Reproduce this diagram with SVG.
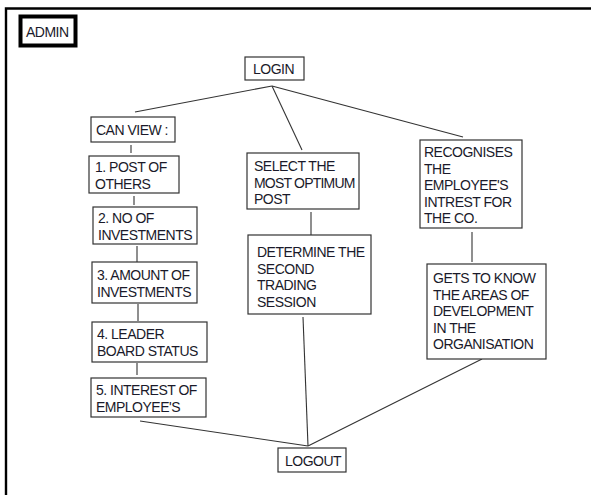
<svg xmlns="http://www.w3.org/2000/svg" width="591" height="495" viewBox="0 0 591 495">
<style>
.box{fill:#fff;stroke:#333;stroke-width:1.2}
.t{font-family:"Liberation Sans",Arial,sans-serif;font-size:14px;letter-spacing:-0.5px;fill:#1a1a2a}
.c{stroke:#333;stroke-width:1.1;fill:none}
</style>
<rect width="591" height="495" fill="#fff"/>
<path d="M6,495 V8.5 H591" fill="none" stroke="#000" stroke-width="2.4"/>
<g id="admin">
<rect x="20.5" y="16.5" width="55" height="29" fill="#fff" stroke="#000" stroke-width="4"/>
<text class="t" x="26" y="37">ADMIN</text>
</g>
<g id="connectors">
<line class="c" x1="272" y1="86" x2="135" y2="112"/>
<line class="c" x1="272" y1="86" x2="463" y2="137"/>
<line class="c" x1="272" y1="86" x2="302" y2="150"/>
<line class="c" x1="131" y1="145" x2="131" y2="153"/>
<line class="c" x1="134" y1="196" x2="134" y2="205"/>
<line class="c" x1="137" y1="246" x2="137" y2="262"/>
<line class="c" x1="138" y1="304" x2="138" y2="321"/>
<line class="c" x1="137" y1="363" x2="137" y2="375"/>
<line class="c" x1="311" y1="212" x2="311" y2="235"/>
<line class="c" x1="472" y1="232" x2="472" y2="262"/>
<line class="c" x1="140" y1="421" x2="308" y2="446"/>
<line class="c" x1="303" y1="317" x2="308" y2="446"/>
<line class="c" x1="482" y1="359" x2="308" y2="446"/>
</g>
<g id="login">
<rect class="box" x="245" y="57" width="59" height="23"/>
<text class="t" x="253" y="73.5">LOGIN</text>
</g>
<g id="canview">
<rect class="box" x="91" y="117" width="84" height="25"/>
<text class="t" x="96" y="135">CAN VIEW :</text>
</g>
<g id="post">
<rect class="box" x="89" y="156" width="90" height="37"/>
<text class="t" x="95" y="172">1. POST OF</text>
<text class="t" x="95" y="188.5">OTHERS</text>
</g>
<g id="noinv">
<rect class="box" x="93" y="207" width="104" height="37"/>
<text class="t" x="98" y="223">2. NO OF</text>
<text class="t" x="98" y="240">INVESTMENTS</text>
</g>
<g id="amount">
<rect class="box" x="92" y="262" width="105" height="41"/>
<text class="t" x="97" y="280">3. AMOUNT OF</text>
<text class="t" x="97" y="297">INVESTMENTS</text>
</g>
<g id="leader">
<rect class="box" x="92" y="322" width="115" height="40"/>
<text class="t" x="97" y="339">4. LEADER</text>
<text class="t" x="97" y="355.5">BOARD STATUS</text>
</g>
<g id="interest">
<rect class="box" x="91" y="378" width="115" height="39"/>
<text class="t" x="96" y="395">5. INTEREST OF</text>
<text class="t" x="96" y="411.5">EMPLOYEE'S</text>
</g>
<g id="select">
<rect class="box" x="247" y="153" width="112" height="56"/>
<text class="t" x="254" y="171">SELECT THE</text>
<text class="t" x="254" y="187.5" style="letter-spacing:-0.8px">MOST OPTIMUM</text>
<text class="t" x="254" y="204">POST</text>
</g>
<g id="determine">
<rect class="box" x="248" y="235" width="123" height="79"/>
<text class="t" x="257" y="257">DETERMINE THE</text>
<text class="t" x="257" y="273.5">SECOND</text>
<text class="t" x="257" y="290">TRADING</text>
<text class="t" x="257" y="306.5">SESSION</text>
</g>
<g id="recognises">
<rect class="box" x="420" y="140" width="102" height="88"/>
<text class="t" x="424" y="157">RECOGNISES</text>
<text class="t" x="424" y="173.5">THE</text>
<text class="t" x="424" y="190">EMPLOYEE'S</text>
<text class="t" x="424" y="206.5">INTREST FOR</text>
<text class="t" x="424" y="223">THE CO.</text>
</g>
<g id="gets">
<rect class="box" x="427" y="264" width="119" height="95"/>
<text class="t" x="433" y="283">GETS TO KNOW</text>
<text class="t" x="433" y="299.5">THE AREAS OF</text>
<text class="t" x="433" y="316">DEVELOPMENT</text>
<text class="t" x="433" y="332.5">IN THE</text>
<text class="t" x="433" y="349">ORGANISATION</text>
</g>
<g id="logout">
<rect class="box" x="278" y="448" width="68" height="24"/>
<text class="t" x="285" y="466">LOGOUT</text>
</g>
</svg>
